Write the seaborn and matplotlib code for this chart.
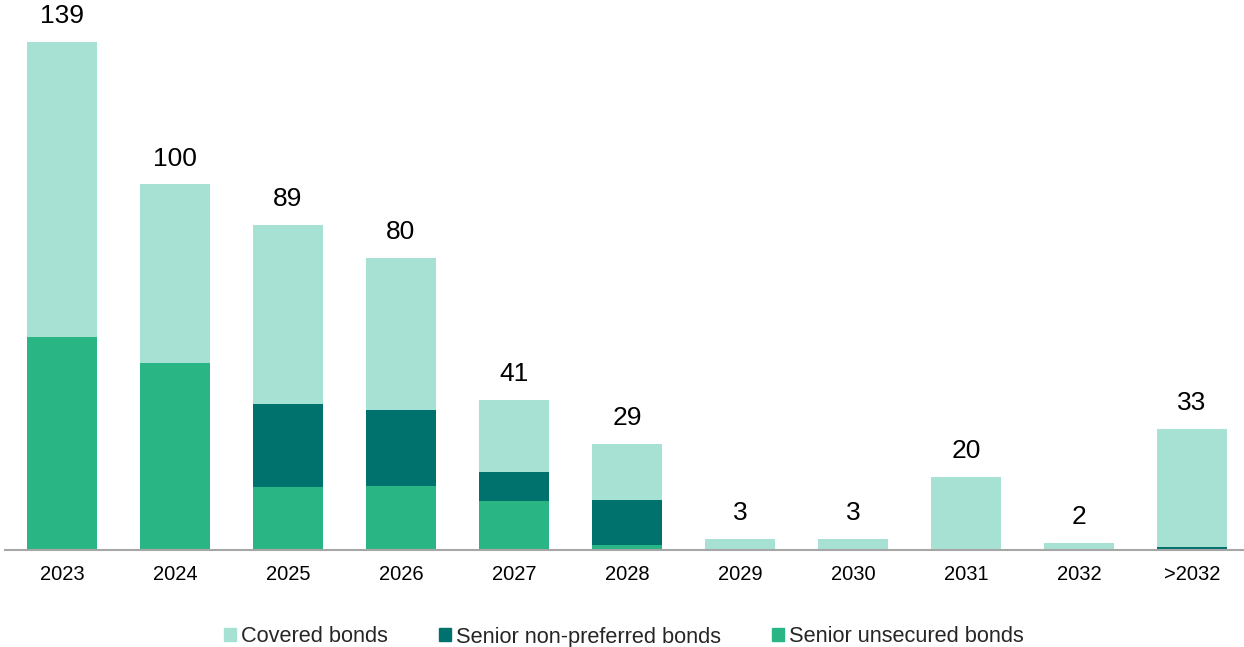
import matplotlib
matplotlib.use("Agg")
import matplotlib.pyplot as plt
import seaborn as sns
import pandas as pd
from matplotlib.patches import Patch

# Maturity profile by instrument type
years = ["2023", "2024", "2025", "2026", "2027", "2028", "2029", "2030", "2031", "2032", ">2032"]
totals = [139, 100, 89, 80, 41, 29, 3, 3, 20, 2, 33]
senior_unsecured = [58.3, 51.2, 17.2, 17.5, 13.4, 1.4, 0.3, 0.0, 0.0, 0.0, 0.0]
senior_non_preferred = [0.0, 0.0, 22.7, 20.8, 7.9, 12.3, 0.0, 0.0, 0.0, 0.0, 0.7]
covered = [80.7, 48.8, 49.1, 41.7, 19.7, 15.3, 2.7, 3.0, 20.0, 2.0, 32.3]

c_cov = "#A6E1D4"
c_snp = "#00726E"
c_su = "#2AB585"

sns.set_theme(style="white")
plt.rcParams["font.family"] = ["Liberation Sans", "DejaVu Sans"]

df = pd.DataFrame({"year": years, "su": senior_unsecured,
                   "snp": senior_non_preferred, "cov": covered})
df["su_snp"] = df["su"] + df["snp"]

fig = plt.figure(figsize=(12.44, 6.47), dpi=100)
ax_h = 0.82
ax = fig.add_axes([0.0044, 0.15, 0.9992, ax_h])

w = 0.62
sns.barplot(data=df, x="year", y="su", color=c_su, width=w, ax=ax,
            saturation=1, linewidth=0)
sns.barplot(data=df, x="year", y="snp", bottom=df["su"], color=c_snp, width=w,
            ax=ax, saturation=1, linewidth=0)
sns.barplot(data=df, x="year", y="cov", bottom=df["su_snp"], color=c_cov, width=w,
            ax=ax, saturation=1, linewidth=0)

for i, t in enumerate(totals):
    ax.annotate(f"{t}", (i, t), xytext=(0, 10), textcoords="offset points",
                ha="center", va="bottom", fontsize=19, color="#000000",
                annotation_clip=False)

ax.set_xlim(-0.5, 10.5)
ax.set_ylim(0, ax_h * 647 * 139 / 508)
ax.set_xlabel("")
ax.set_ylabel("")
ax.set_yticks([])
ax.tick_params(axis="x", length=0, pad=10.5, labelsize=14.5, colors="#000000")
for s in ["top", "left", "right"]:
    ax.spines[s].set_visible(False)
ax.spines["bottom"].set_color("#A6A6A6")
ax.spines["bottom"].set_linewidth(1.5)

handles = [Patch(color=c_cov, label="Covered bonds"),
           Patch(color=c_snp, label="Senior non-preferred bonds"),
           Patch(color=c_su, label="Senior unsecured bonds")]
fig.legend(handles=handles, loc="center", bbox_to_anchor=(0.5016, 1 - 637 / 647),
           ncol=3, frameon=False, fontsize=15.7, handlelength=0.55,
           handleheight=0.55, handletextpad=0.22, columnspacing=2.35)

fig.savefig("out.png", dpi=100)
